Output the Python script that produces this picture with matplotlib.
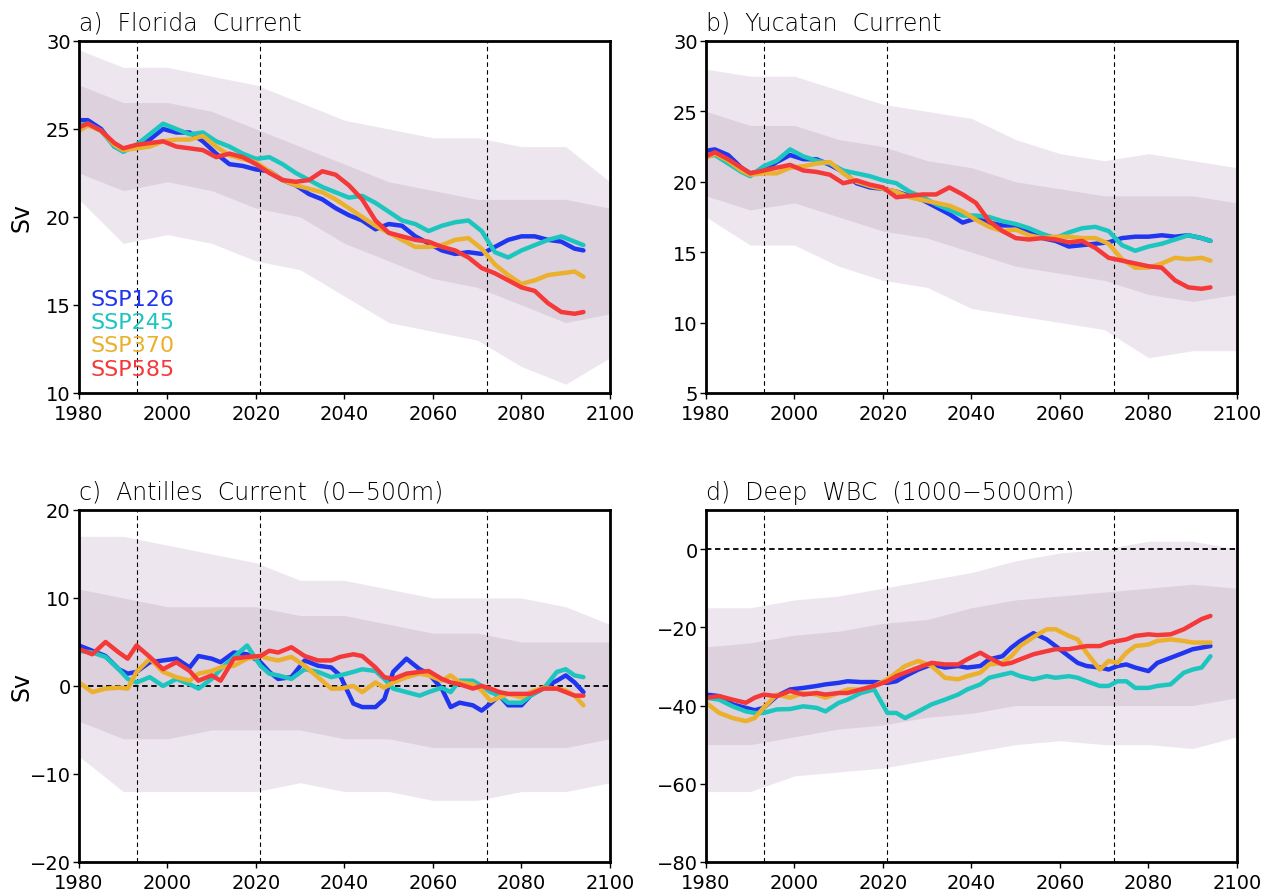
import numpy as np
import matplotlib.pyplot as plt

plt.rcParams['font.family'] = ['DejaVu Sans']

# scenario names and colours
scenarios = ["SSP126", "SSP245", "SSP370", "SSP585"]
colors = ["#1f35f0", "#1cc6bf", "#ebb02c", "#f53838"]

# years for the smoothed curves (panels a, b)
years_ab = [1980, 1982, 1985, 1988, 1990, 1993, 1996, 1999, 2002, 2005, 2008, 2011,
            2014, 2017, 2020, 2023, 2026, 2029, 2032, 2035, 2038, 2041, 2044, 2047,
            2050, 2053, 2056, 2059, 2062, 2065, 2068, 2071, 2074, 2077, 2080, 2083,
            2086, 2089, 2092, 2094]

# a) Florida Current, smoothed (Sv)
florida_126 = [25.5, 25.5, 25.0, 24.0, 23.8, 24.0, 24.4, 25.0, 24.8, 24.8, 24.3, 23.6,
               23.0, 22.9, 22.7, 22.6, 22.1, 21.8, 21.3, 21.0, 20.5, 20.1, 19.8, 19.3,
               19.6, 19.5, 18.9, 18.5, 18.1, 17.9, 18.0, 17.9, 18.3, 18.7, 18.9, 18.9,
               18.7, 18.6, 18.2, 18.1]
florida_245 = [25.2, 25.3, 24.9, 24.0, 23.7, 24.1, 24.7, 25.3, 25.0, 24.7, 24.8, 24.3,
               24.0, 23.6, 23.3, 23.4, 23.0, 22.5, 22.1, 21.7, 21.4, 21.1, 21.2, 20.8,
               20.3, 19.8, 19.6, 19.2, 19.5, 19.7, 19.8, 19.2, 18.0, 17.7, 18.1, 18.4,
               18.7, 18.9, 18.6, 18.4]
florida_370 = [24.9, 25.2, 24.9, 24.1, 23.8, 23.9, 24.0, 24.3, 24.4, 24.4, 24.6, 24.0,
               23.5, 23.3, 23.1, 22.6, 22.1, 21.8, 21.6, 21.4, 21.0, 20.5, 20.0, 19.5,
               19.1, 18.7, 18.3, 18.3, 18.4, 18.7, 18.8, 18.2, 17.3, 16.7, 16.2, 16.4,
               16.7, 16.8, 16.9, 16.6]
florida_585 = [25.1, 25.3, 24.9, 24.2, 23.9, 24.1, 24.2, 24.3, 24.0, 23.9, 23.8, 23.4,
               23.6, 23.4, 23.0, 22.5, 22.1, 22.0, 22.1, 22.6, 22.4, 21.8, 21.0, 19.8,
               19.1, 18.9, 18.7, 18.6, 18.3, 18.1, 17.7, 17.1, 16.8, 16.4, 16.0, 15.8,
               15.1, 14.6, 14.5, 14.6]

# b) Yucatan Current, smoothed (Sv)
yucatan_126 = [22.2, 22.3, 21.9, 21.0, 20.6, 20.8, 21.4, 21.9, 21.6, 21.6, 21.2, 20.7,
               19.9, 19.6, 19.5, 19.3, 19.0, 18.7, 18.2, 17.7, 17.1, 17.4, 17.1, 16.9,
               16.9, 16.5, 16.0, 15.8, 15.4, 15.5, 15.6, 15.7, 16.0, 16.1, 16.1, 16.2,
               16.1, 16.2, 16.0, 15.8]
yucatan_245 = [21.8, 21.9, 21.3, 20.7, 20.4, 21.1, 21.5, 22.3, 21.8, 21.5, 21.3, 20.8,
               20.6, 20.4, 20.1, 19.9, 19.3, 18.9, 18.4, 18.0, 17.6, 17.6, 17.5, 17.2,
               17.0, 16.7, 16.3, 16.0, 16.4, 16.7, 16.8, 16.5, 15.5, 15.1, 15.4, 15.6,
               15.9, 16.2, 16.0, 15.8]
yucatan_370 = [21.7, 22.0, 21.5, 20.8, 20.5, 20.6, 20.6, 21.0, 21.1, 21.3, 21.4, 20.6,
               20.0, 19.7, 19.5, 19.3, 18.9, 18.7, 18.5, 18.3, 17.9, 17.3, 16.8, 16.5,
               16.6, 16.2, 16.0, 16.1, 16.1, 16.0, 16.0, 15.6, 14.5, 13.9, 13.9, 14.2,
               14.6, 14.5, 14.6, 14.4]
yucatan_585 = [21.8, 22.1, 21.6, 21.0, 20.6, 20.8, 21.0, 21.2, 20.8, 20.7, 20.5, 19.9,
               20.1, 19.8, 19.6, 18.9, 19.0, 19.1, 19.1, 19.6, 19.1, 18.5, 17.2, 16.5,
               16.0, 15.9, 16.0, 15.9, 15.7, 15.8, 15.3, 14.6, 14.4, 14.2, 14.0, 13.9,
               13.0, 12.5, 12.4, 12.5]

# years for the smoothed curves (panels c, d)
years_cd = [1980, 1983, 1986, 1989, 1991, 1993, 1996, 1999, 2002, 2005, 2007, 2010,
            2012, 2015, 2018, 2021, 2023, 2025, 2028, 2031, 2034, 2037, 2039, 2042,
            2044, 2047, 2049, 2051, 2054, 2057, 2059, 2062, 2064, 2066, 2069, 2071,
            2073, 2075, 2077, 2080, 2082, 2085, 2088, 2090, 2092, 2094]

# c) Antilles Current (0-500m), smoothed (Sv)
antilles_126 = [4.6, 4.0, 3.4, 1.9, 1.4, 1.6, 2.7, 2.9, 3.1, 2.1, 3.4, 3.1,
                2.7, 3.8, 3.6, 2.7, 1.6, 0.8, 1.0, 2.9, 2.3, 2.1, 1.2, -2.0,
                -2.4, -2.4, -1.5, 1.6, 3.1, 1.9, 1.4, -0.3, -2.4, -1.9, -2.2, -2.8,
                -2.0, -1.1, -2.2, -2.2, -1.1, -0.2, 0.6, 1.2, 0.4, -0.7]
antilles_245 = [4.0, 3.8, 3.3, 1.9, 0.8, 0.4, 1.0, 0.0, 0.8, 0.2, -0.3, 0.8,
                1.9, 3.3, 4.6, 2.3, 1.4, 1.2, 0.8, 1.9, 1.6, 1.0, 1.2, 1.6,
                1.9, 1.7, 0.8, -0.3, -0.7, -1.1, -0.7, -0.2, -0.7, 0.6, 0.6, 0.0,
                -0.7, -1.1, -1.9, -1.9, -1.1, -0.3, 1.6, 1.9, 1.2, 1.0]
antilles_370 = [0.4, -0.7, -0.3, -0.2, -0.3, 1.6, 3.1, 1.6, 1.0, 0.6, 1.4, 1.7,
                2.1, 2.3, 3.1, 3.4, 3.1, 2.9, 3.3, 2.3, 1.0, -0.3, -0.3, 0.0,
                -0.7, 0.4, -0.2, 0.4, 1.0, 1.4, 1.2, 0.6, 1.2, 0.4, 0.2, -0.5,
                -1.7, -1.3, -0.9, -1.3, -0.7, -0.2, -0.3, -0.5, -1.1, -2.2]
antilles_585 = [4.2, 3.6, 5.0, 3.8, 3.1, 4.6, 3.3, 1.9, 2.7, 1.7, 0.6, 1.2,
                0.6, 3.1, 3.3, 3.4, 4.0, 3.8, 4.4, 3.4, 2.9, 2.9, 3.3, 3.6,
                3.4, 2.1, 1.0, 0.8, 1.4, 1.6, 1.7, 0.8, 0.4, 0.2, -0.3, 0.0,
                -0.3, -0.7, -0.9, -0.9, -0.9, -0.3, -0.3, -0.7, -1.1, -1.1]

# d) Deep WBC (1000-5000m), smoothed (Sv)
deep_126 = [-37.2, -37.6, -39.7, -40.6, -41.2, -40.6, -37.6, -35.9, -35.5, -35.0, -34.6, -34.2,
            -33.8, -34.0, -34.0, -34.2, -33.8, -32.5, -30.8, -29.5, -30.3, -29.9, -30.3, -29.9,
            -28.2, -27.4, -25.2, -23.5, -21.5, -23.1, -24.8, -27.4, -29.1, -29.9, -30.3, -30.8,
            -29.9, -29.5, -30.3, -31.2, -29.1, -27.8, -26.5, -25.6, -25.2, -24.8]
deep_245 = [-38.0, -38.5, -40.2, -41.5, -41.9, -41.9, -41.0, -40.9, -40.2, -40.6, -41.5, -39.3,
            -38.5, -36.8, -35.9, -41.9, -41.9, -43.2, -41.5, -39.7, -38.5, -37.2, -35.9, -34.6,
            -32.9, -32.1, -31.6, -32.5, -33.3, -32.5, -32.9, -32.5, -32.9, -33.8, -35.0, -35.0,
            -33.8, -33.8, -35.5, -35.5, -35.0, -34.6, -31.6, -30.8, -30.3, -27.4]
deep_370 = [-39.3, -41.9, -43.2, -44.0, -43.2, -40.6, -37.2, -38.0, -36.8, -37.2, -38.0, -36.8,
            -35.9, -35.9, -35.0, -33.3, -31.6, -29.9, -28.6, -29.9, -32.9, -33.3, -32.5, -31.6,
            -29.5, -29.1, -27.4, -24.8, -22.5, -20.5, -20.5, -22.2, -23.1, -26.5, -30.8, -28.6,
            -29.1, -26.5, -24.8, -24.4, -23.5, -23.1, -23.5, -23.9, -23.9, -23.9]
deep_585 = [-38.0, -37.6, -38.5, -39.3, -38.0, -37.2, -37.6, -36.3, -37.2, -36.8, -37.2, -36.8,
            -36.8, -35.9, -35.0, -33.8, -32.5, -31.6, -30.3, -29.1, -29.5, -29.5, -28.2, -26.5,
            -27.8, -29.5, -29.1, -28.2, -26.9, -26.1, -25.6, -25.6, -25.2, -24.8, -24.8, -23.9,
            -23.5, -23.1, -22.2, -21.8, -22.0, -21.8, -20.5, -19.2, -17.9, -17.1]

# spread of the unsmoothed members, read every 10 years
years_env = [1980, 1990, 2000, 2010, 2020, 2030, 2040, 2050, 2060, 2070, 2080, 2090, 2100]
florida_outer_hi = [29.5, 28.5, 28.5, 28.0, 27.5, 26.5, 25.5, 25.0, 24.5, 24.5, 24.0, 24.0, 22.0]
florida_outer_lo = [21.0, 18.5, 19.0, 18.5, 17.5, 17.0, 15.5, 14.0, 13.5, 13.0, 11.5, 10.5, 12.0]
florida_core_hi = [27.5, 26.5, 26.5, 26.0, 25.0, 24.0, 23.0, 22.0, 21.5, 21.0, 21.0, 21.0, 20.5]
florida_core_lo = [22.5, 21.5, 22.0, 21.5, 20.5, 20.0, 18.5, 17.5, 16.5, 16.0, 15.0, 14.0, 14.5]
yucatan_outer_hi = [28.0, 27.5, 27.5, 26.5, 25.5, 25.0, 24.5, 23.0, 22.0, 21.5, 22.0, 21.5, 21.0]
yucatan_outer_lo = [17.5, 15.5, 15.5, 14.0, 13.0, 12.5, 11.0, 10.5, 10.0, 9.5, 7.5, 8.0, 8.0]
yucatan_core_hi = [25.0, 24.0, 24.0, 23.0, 22.5, 21.5, 21.0, 20.0, 19.5, 19.0, 19.0, 19.0, 18.5]
yucatan_core_lo = [19.0, 18.0, 18.5, 17.5, 16.5, 16.0, 15.0, 14.0, 13.5, 13.0, 12.0, 11.5, 12.0]
antilles_outer_hi = [17, 17, 16, 15, 14, 12, 12, 11, 10, 10, 10, 9, 7]
antilles_outer_lo = [-8, -12, -12, -12, -12, -11, -12, -12, -13, -13, -12, -12, -11]
antilles_core_hi = [11, 10, 9, 9, 9, 8, 8, 7, 6, 6, 5, 5, 5]
antilles_core_lo = [-4, -6, -6, -5, -5, -5, -6, -6, -7, -7, -7, -7, -6]
deep_outer_hi = [-15, -15, -13, -12, -10, -8, -6, -3, -1, 0, 2, 2, 0]
deep_outer_lo = [-62, -62, -58, -57, -56, -54, -52, -50, -49, -50, -50, -51, -48]
deep_core_hi = [-25, -24, -22, -21, -19, -18, -15, -13, -12, -11, -10, -9, -10]
deep_core_lo = [-50, -50, -48, -46, -45, -43, -42, -40, -40, -40, -40, -40, -38]

# period boundaries (dashed verticals)
period_marks = [1993.0, 2020.8, 2072.3]

panels = [
    ("a)  Florida  Current", years_ab, [florida_126, florida_245, florida_370, florida_585],
     (florida_outer_lo, florida_outer_hi, florida_core_lo, florida_core_hi),
     (10, 30), [10, 15, 20, 25, 30], False),
    ("b)  Yucatan  Current", years_ab, [yucatan_126, yucatan_245, yucatan_370, yucatan_585],
     (yucatan_outer_lo, yucatan_outer_hi, yucatan_core_lo, yucatan_core_hi),
     (5, 30), [5, 10, 15, 20, 25, 30], False),
    ("c)  Antilles  Current  (0\u2212500m)", years_cd,
     [antilles_126, antilles_245, antilles_370, antilles_585],
     (antilles_outer_lo, antilles_outer_hi, antilles_core_lo, antilles_core_hi),
     (-20, 20), [-20, -10, 0, 10, 20], True),
    ("d)  Deep  WBC  (1000\u22125000m)", years_cd, [deep_126, deep_245, deep_370, deep_585],
     (deep_outer_lo, deep_outer_hi, deep_core_lo, deep_core_hi),
     (-80, 10), [-80, -60, -40, -20, 0], True),
]

fig = plt.figure(figsize=(12.7, 8.95), dpi=100)
positions = [
    [0.0622, 0.5598, 0.4181, 0.3933],
    [0.5559, 0.5598, 0.4181, 0.3933],
    [0.0622, 0.0358, 0.4181, 0.3933],
    [0.5559, 0.0358, 0.4181, 0.3933],
]

for i, (title, yrs, series, env, ylim, yticks, zero_line) in enumerate(panels):
    ax = fig.add_axes(positions[i])
    outer_lo, outer_hi, core_lo, core_hi = env
    ax.fill_between(years_env, outer_lo, outer_hi, color='#dccfdf', alpha=0.5, lw=0)
    ax.fill_between(years_env, core_lo, core_hi, color='#c4b2c4', alpha=0.4, lw=0)

    for x in period_marks:
        ax.axvline(x, color='black', linestyle=(0, (4, 3)), linewidth=0.8)
    if zero_line:
        ax.axhline(0, color='black', linestyle=(0, (3, 2)), linewidth=1.3)

    for vals, c in zip(series, colors):
        ax.plot(yrs, vals, color=c, linewidth=3.2, solid_capstyle='round')

    ax.set_xlim(1980, 2100)
    ax.set_ylim(*ylim)
    ax.set_xticks(range(1980, 2101, 20))
    ax.set_yticks(yticks)
    ax.tick_params(direction='out', length=4, width=1, labelsize=14)
    ax.tick_params(axis='x', pad=4)
    ax.tick_params(axis='y', pad=2)
    for s in ax.spines.values():
        s.set_linewidth(2)
    ax.set_title(title, loc='left', fontsize=17, pad=8, fontweight='light')
    if i % 2 == 0:
        ax.set_ylabel("Sv", fontsize=17)
        ax.yaxis.set_label_coords(-0.085, 0.5)

    if i == 0:
        for k, (name, c) in enumerate(zip(scenarios, colors)):
            ax.text(0.022, 0.267 - k * 0.066, name, color=c, fontsize=16,
                    transform=ax.transAxes, va='center', ha='left')

plt.savefig("out.png", dpi=100)
